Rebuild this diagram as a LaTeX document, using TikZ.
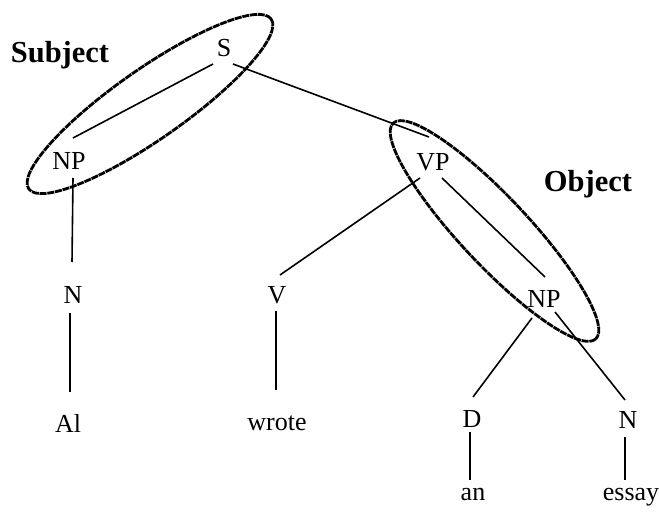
\documentclass[tikz,border=0pt]{standalone}
\usepackage{fontspec}
\setmainfont{Liberation Serif}
\begin{document}
\begin{tikzpicture}[x=1pt,y=-1pt,
  lab/.style={inner sep=0pt,anchor=base,font=\fontsize{26}{30}\selectfont},
  role/.style={inner sep=0pt,anchor=base,font=\fontsize{30.5}{36}\selectfont\bfseries},
  branch/.style={line width=1.6pt},
  ring/.style={line width=2.8pt,dash pattern=on 7pt off 0.8pt}]
\useasboundingbox (0,0) rectangle (659,513);
% nodes
\node[lab] (S) at (224,57) {S};
\node[lab] (NPl) at (69,170) {NP};
\node[lab] (Nl) at (73,303) {N};
\node[lab] (Al) at (68,432) {Al};
\node[lab] (VP) at (433,171) {VP};
\node[lab] (V) at (277,304) {V};
\node[lab] (wrote) at (277,430) {wrote};
\node[lab] (NPr) at (544,308) {NP};
\node[lab] (D) at (472,427) {D};
\node[lab] (Nr) at (628,428) {N};
\node[lab] (an) at (473,500) {an};
\node[lab] (essay) at (631,500) {essay};
\node[role] (subj) at (60,63) {Subject};
\node[role] (obj) at (588,192) {Object};
% branches
\draw[branch] ([shift={(-11,7)}]S.base) -- ([shift={(4,-32)}]NPl.base);
\draw[branch] ([shift={(9,7)}]S.base) -- ([shift={(-4,-34)}]VP.base);
\draw[branch] ([shift={(4,8)}]NPl.base) -- ([shift={(-1,-41)}]Nl.base);
\draw[branch] ([shift={(-3,10)}]Nl.base) -- ([shift={(2,-40)}]Al.base);
\draw[branch] ([shift={(-13,7)}]VP.base) -- ([shift={(3,-29)}]V.base);
\draw[branch] ([shift={(9,7)}]VP.base) -- ([shift={(1,-31)}]NPr.base);
\draw[branch] ([shift={(-1,7)}]V.base) -- ([shift={(-1,-40)}]wrote.base);
\draw[branch] ([shift={(-12,10)}]NPr.base) -- ([shift={(1,-30)}]D.base);
\draw[branch] ([shift={(11,4)}]NPr.base) -- ([shift={(-3,-28)}]Nr.base);
\draw[branch] ([shift={(-2,5)}]D.base) -- ([shift={(-3,-20)}]an.base);
\draw[branch] ([shift={(-3,9)}]Nr.base) -- ([shift={(-6,-20)}]essay.base);
% ellipses
\draw[ring, rotate around={35:(150,104)}] (150,104) ellipse [x radius=148, y radius=35];
\draw[ring, rotate around={-46.8:(494.5,231)}] (494.5,231) ellipse [x radius=148, y radius=34];
\end{tikzpicture}
\end{document}
